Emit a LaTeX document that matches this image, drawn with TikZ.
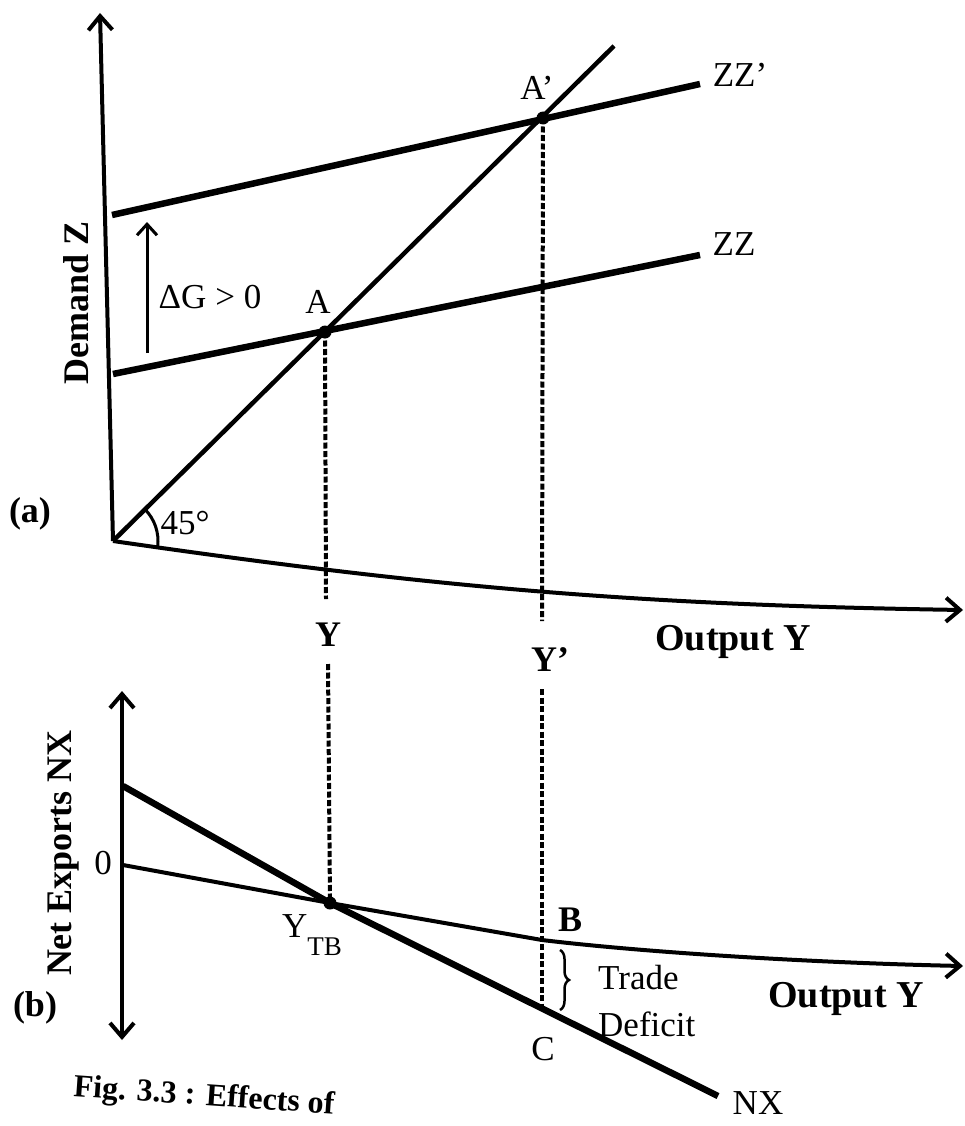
\documentclass[tikz,border=0pt]{standalone}
\usepackage{fontspec}
\setmainfont{Liberation Serif}
\usetikzlibrary{arrows.meta,calc,decorations.pathreplacing,positioning}

\begin{document}
\begin{tikzpicture}[x=1pt,y=-1pt,>={Straight Barb[length=14pt,width=24pt]},
  lbl/.style={inner sep=0pt,font=\fontsize{35}{38}\selectfont},
  blbl/.style={inner sep=0pt,font=\fontsize{36}{40}\selectfont\bfseries},
  curve/.style={line width=6.5pt},
  axis/.style={line width=4pt},
  guide/.style={line width=4pt,dash pattern=on 6pt off 2.5pt}]
  \useasboundingbox (0,0) rectangle (964,1126);
  % panel (a): goods market
  \coordinate (O) at (113,541);
  \coordinate (Ztop) at (100,13);
  \coordinate (Xa) at (963,610);
  \coordinate (Z0) at (113,374);
  \coordinate (Z1) at (112,215);
  \coordinate (ZZe) at (700,255);
  \coordinate (ZZpe) at (700,84);
  \coordinate (T45) at (614,46);
  \coordinate (A) at (325,332);
  \coordinate (Ap) at (543,118);
  \coordinate (dG0) at (147,353);
  \coordinate (dG1) at (147,222);
  \draw[axis,->] (O) -- (Ztop);
  \draw[axis,->] (O) .. controls (450,590) and (650,605) .. (Xa);
  \draw[line width=4.5pt] (O) -- (T45);
  \draw[curve] (Z0) -- (ZZe);
  \draw[curve] (Z1) -- (ZZpe);
  \draw[line width=3pt,->,>={Straight Barb[length=11pt,width=20pt]}] (dG0) -- (dG1);
  \draw[line width=3pt] (O) ++(7:45) arc[start angle=7,end angle=-45,radius=45];
  \node[blbl,rotate=90] (dz) at (76,303) {Demand Z};
  \node[blbl] (pa) at (30,514) {(a)};
  \node[lbl] (dg) at (210,297) {ΔG > 0};
  \node[lbl] (lA) at (318,302) {A};
  \node[lbl] (lAp) at (537,88) {A’};
  \node[lbl] (lzzp) at (740,75) {ZZ’};
  \node[lbl] (lzz) at (734,244) {ZZ};
  \node[lbl] (l45) at (185,523) {45°};
  \node[blbl] (ly) at (328,635) {Y};
  \node[blbl] (lyp) at (550,660) {Y’};
  \node[blbl,font=\fontsize{38}{40}\selectfont\bfseries] (ox1) at (733,642) {Output Y};
  % panel (b): net exports
  \coordinate (Nt) at (122,691);
  \coordinate (Nb) at (122,1040);
  \coordinate (N0) at (123,865);
  \coordinate (N1) at (123,786);
  \coordinate (YTB) at (330,903);
  \coordinate (B) at (542,940);
  \coordinate (C) at (542,1008);
  \coordinate (NXe) at (718,1096);
  \coordinate (Xb) at (963,966);
  \draw[axis,<->] (Nb) -- (Nt);
  \draw[axis,->] (N0) -- (YTB) -- (B) .. controls (650,953) and (820,963) .. (Xb);
  \draw[curve] (N1) -- (YTB) -- (NXe);
  \node[blbl,rotate=90] (nx) at (64,853) {Net Exports NX};
  \node[lbl] (l0) at (103,863) {0};
  \node[blbl] (pb) at (35,1008) {(b)};
  \node[lbl] (lytb) at (312,935) {Y\raisebox{-0.5em}{\fontsize{27}{30}\selectfont TB}};
  \node[blbl] (lB) at (570,920) {B};
  \node[lbl] (lC) at (543,1049) {C};
  \node[lbl,align=left,anchor=west,font=\fontsize{35}{47}\selectfont] (td) at (598,1001) {Trade\\Deficit};
  \node[blbl,font=\fontsize{38}{40}\selectfont\bfseries] (ox2) at (846,999) {Output Y};
  \node[lbl] (lnx) at (758,1103) {NX};
  \draw[line width=2.5pt,decorate,decoration={brace,amplitude=9pt}] (560,950) -- (560,1010);
  % guides from the equilibria
  \coordinate (Ga1) at (326,599);
  \coordinate (Ga2) at (328,664);
  \coordinate (Gb1) at (542,621);
  \coordinate (Gb2) at (542,689);
  \draw[guide] (A) -- (Ga1);
  \draw[guide] (Ga2) -- (YTB);
  \draw[guide] (Ap) -- (Gb1);
  \draw[guide] (Gb2) -- (C);
  \foreach \p in {A,Ap,YTB} \fill (\p) circle (6.5pt);
  \node[blbl,rotate=-4,anchor=base west,font=\fontsize{32}{36}\selectfont\bfseries] (cap) at (73,1096) {Fig. 3.3 : Effects of};
\end{tikzpicture}
\end{document}
